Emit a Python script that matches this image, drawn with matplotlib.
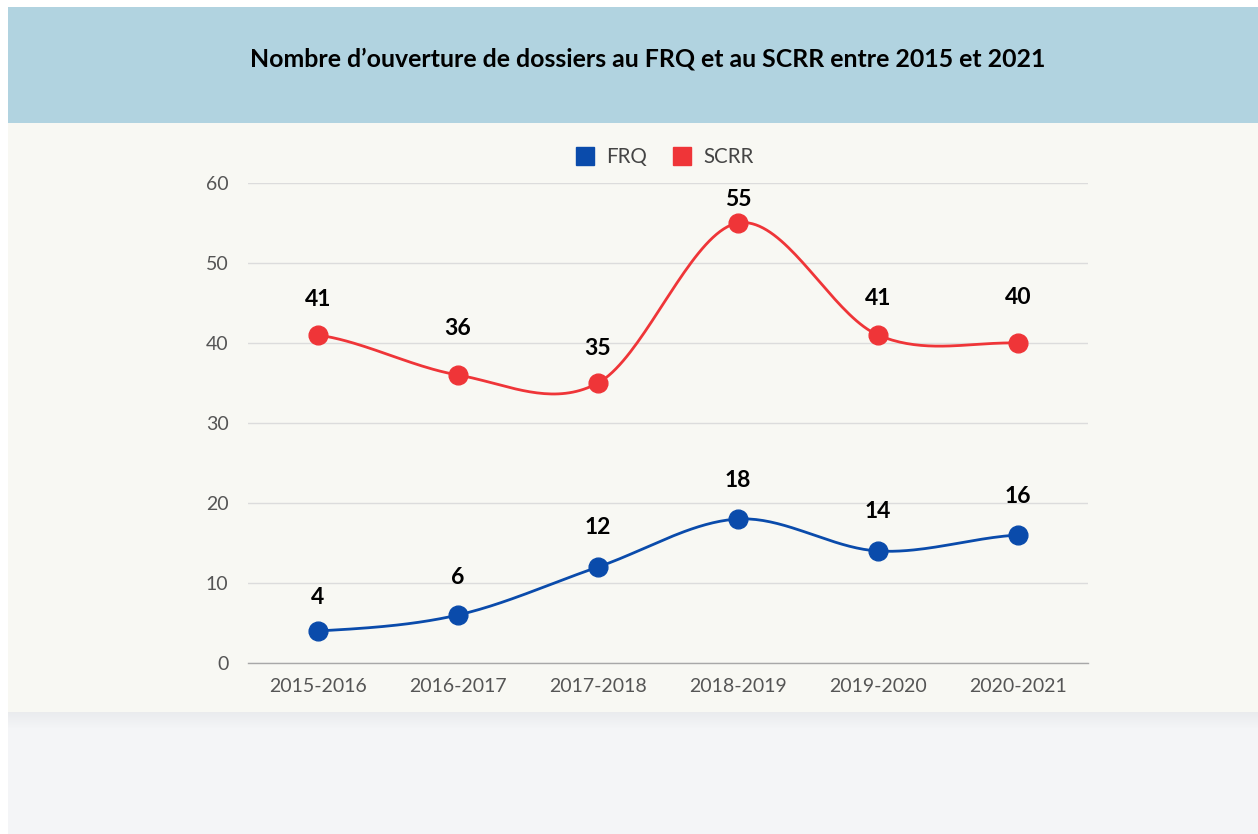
import numpy as np
import matplotlib.pyplot as plt
from matplotlib.patches import Rectangle
from matplotlib.lines import Line2D

# data
categories = ['2015-2016', '2016-2017', '2017-2018', '2018-2019', '2019-2020', '2020-2021']
frq = [4, 6, 12, 18, 14, 16]
scrr = [41, 36, 35, 55, 41, 40]
yticks = [0, 10, 20, 30, 40, 50, 60]
title = 'Nombre d\u2019ouverture de dossiers au FRQ et au SCRR entre 2015 et 2021'

# label lift above each point, in pixels (as placed in the original)
frq_lift = [34, 37, 39, 39, 39, 39]
scrr_lift = [36, 47, 35, 24, 37, 46]

BLUE = '#0a4bab'
RED = '#ef3538'
W, H = 1258, 834
FONT = ['Lato', 'DejaVu Sans']


def smooth(xs, ys, n=40):
    # catmull-rom style hermite spline, ends use the point itself as neighbour
    xs = np.asarray(xs, float)
    ys = np.asarray(ys, float)
    k = len(ys)
    m = np.zeros(k)
    for i in range(k):
        a = ys[max(i - 1, 0)]
        b = ys[min(i + 1, k - 1)]
        m[i] = (b - a) / 2
    t = np.linspace(0, 1, n)
    h00 = 2 * t ** 3 - 3 * t ** 2 + 1
    h10 = t ** 3 - 2 * t ** 2 + t
    h01 = -2 * t ** 3 + 3 * t ** 2
    h11 = t ** 3 - t ** 2
    px, py = [], []
    for i in range(k - 1):
        px.extend(xs[i] + t * (xs[i + 1] - xs[i]))
        py.extend(h00 * ys[i] + h10 * m[i] + h01 * ys[i + 1] + h11 * m[i + 1])
    return np.array(px), np.array(py)


fig = plt.figure(figsize=(W / 100, H / 100), dpi=100)
fig.patch.set_facecolor('white')


def px_rect(x0, y0, x1, y1, color, **kw):
    fig.patches.append(Rectangle((x0 / W, 1 - y1 / H), (x1 - x0) / W, (y1 - y0) / H,
                                 transform=fig.transFigure, facecolor=color,
                                 edgecolor='none', zorder=-5, **kw))


px_rect(8, 7, W, 123, '#b1d3e0')
px_rect(8, 123, W, 712, '#f8f8f3')
px_rect(8, 712, W, H, '#f4f5f7')
# soft shadow under the panel
for i in range(16):
    px_rect(8, 712 + i, W, 713 + i, '#d8dadd', alpha=0.35 * (1 - i / 16))

fig.text(648 / W, 1 - 59 / H, title, ha='center', va='center', fontsize=17.9,
         fontweight='bold', family=FONT, color='black')

ax = fig.add_axes([248 / W, 1 - 663 / H, 840 / W, 480 / H])
ax.set_facecolor('none')
ax.set_xlim(-0.5, len(categories) - 0.5)
ax.set_ylim(0, 60)
x = np.arange(len(categories))

for vals, lifts, col in [(frq, frq_lift, BLUE), (scrr, scrr_lift, RED)]:
    sx, sy = smooth(x, vals)
    ax.plot(sx, sy, color=col, lw=2, zorder=3, solid_capstyle='round')
    ax.plot(x, vals, 'o', color=col, ms=13.5, zorder=4)
    for xi, v, lift in zip(x, vals, lifts):
        ax.annotate(str(v), (xi, v), xytext=(0, lift), textcoords='offset pixels',
                    ha='center', va='center', fontsize=16.5, fontweight='bold',
                    family=FONT, color='black', zorder=5, annotation_clip=False)

ax.set_yticks(yticks)
ax.set_xticks(x)
ax.set_xticklabels(categories)
ax.grid(axis='y', color='#dcdcdc', lw=1)
ax.set_axisbelow(True)
for s in ['top', 'right', 'left']:
    ax.spines[s].set_visible(False)
ax.spines['bottom'].set_color('#a8a8a8')
ax.spines['bottom'].set_linewidth(1)
ax.tick_params(axis='both', length=0, labelsize=14, labelcolor='#555555')
ax.tick_params(axis='x', pad=11)
ax.tick_params(axis='y', pad=14)
for lab in ax.get_xticklabels() + ax.get_yticklabels():
    lab.set_family(FONT)

handles = [Line2D([], [], marker='s', ls='none', color=BLUE, ms=12.5),
           Line2D([], [], marker='s', ls='none', color=RED, ms=12.5)]
leg = fig.legend(handles, ['FRQ', 'SCRR'], loc='center', bbox_to_anchor=(664 / W, 1 - 157 / H),
                 ncol=2, frameon=False, handlelength=1.0, handletextpad=0.55,
                 columnspacing=1.2, prop={'family': FONT, 'size': 14.8})
for t in leg.get_texts():
    t.set_color('#444444')

fig.savefig('out.png', dpi=100, facecolor=fig.get_facecolor())
